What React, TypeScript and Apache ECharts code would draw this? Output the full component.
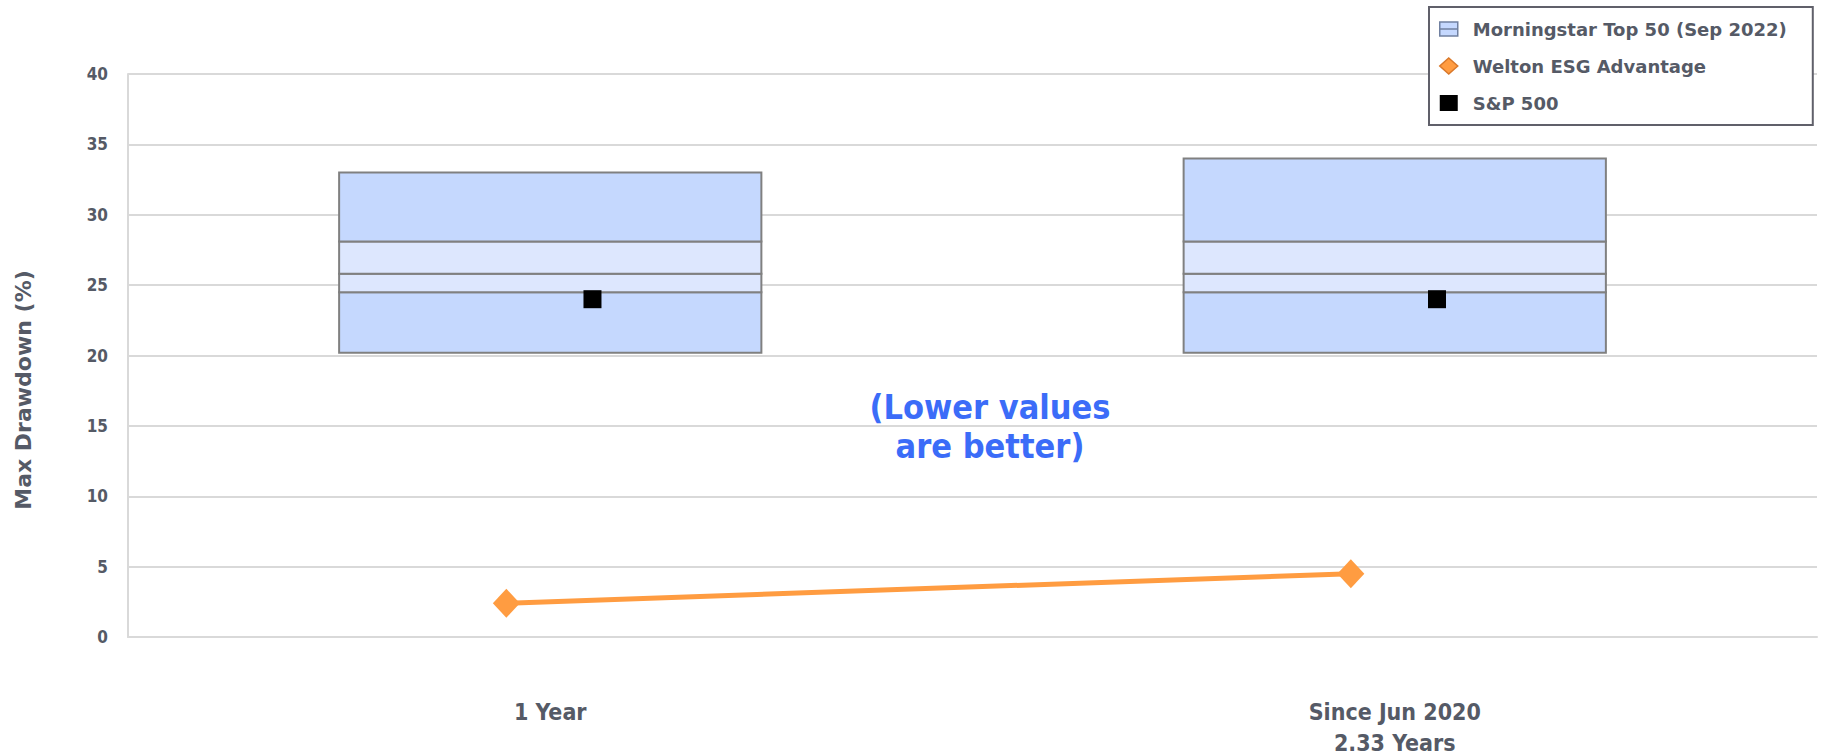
import React, { useEffect, useRef } from "react";
import * as echarts from "echarts";

const categories = ["1 Year", "Since Jun 2020\n2.33 Years"];
// Morningstar Top 50 distribution: [min, q1, median, q3, max]
const mstarMin = [20.2, 20.2];
const mstarQ1 = [24.5, 24.5];
const mstarMedian = [25.8, 25.8];
const mstarQ3 = [28.1, 28.1];
const mstarMax = [33.0, 34.0];
const welton = [2.4, 4.5];
const sp500 = [24.0, 24.0];
const yTicks = { min: 0, max: 40, interval: 5 };

const LABEL_COLOR = "#555a66";
const GRID_COLOR = "#d9d9d9";
const DARK_FILL = "#c5d8fe";
const LIGHT_FILL = "#dde7fe";
const BOX_STROKE = "#808080";
const ORANGE = "#ff9c41";
const WELTON_SHIFT = -0.052;
const SP_SHIFT = 0.05;

export default function App() {
  const ref = useRef<HTMLDivElement>(null);

  useEffect(() => {
    if (!ref.current) return;
    const chart = echarts.init(ref.current, null, { renderer: "svg" });

    const boxData = categories.map((_, i) => [
      i,
      mstarMin[i],
      mstarQ1[i],
      mstarMedian[i],
      mstarQ3[i],
      mstarMax[i],
    ]);

    const renderBox = (params: any, api: any) => {
      const idx = api.value(0);
      const vals = [api.value(1), api.value(2), api.value(3), api.value(4), api.value(5)];
      const band = api.size([1, 0])[0];
      const w = band * 0.5;
      const cx = api.coord([idx, vals[0]])[0];
      const x0 = cx - w / 2;
      const fills = [DARK_FILL, LIGHT_FILL, LIGHT_FILL, DARK_FILL];
      const children = fills.map((fill, k) => {
        const yLow = api.coord([idx, vals[k]])[1];
        const yHigh = api.coord([idx, vals[k + 1]])[1];
        return {
          type: "rect",
          shape: { x: x0, y: yHigh, width: w, height: yLow - yHigh },
          style: { fill, stroke: BOX_STROKE, lineWidth: 2 },
        };
      });
      return { type: "group", children };
    };

    chart.setOption({
      animation: false,
      backgroundColor: "#ffffff",
      grid: { left: 128, right: 5, top: 74, bottom: 119, outerBoundsMode: "none", containLabel: false },
      legend: {
        orient: "vertical",
        left: 1429,
        top: 7,
        padding: [13, 26, 13, 10],
        borderColor: "#60606a",
        borderWidth: 2,
        backgroundColor: "#ffffff",
        itemWidth: 18,
        itemHeight: 16,
        itemGap: 19,
        selectedMode: false,
        textStyle: {
          color: LABEL_COLOR,
          fontFamily: "DejaVu Sans",
          fontWeight: "bold",
          fontSize: 18,
          lineHeight: 18,
          padding: [0, 0, 0, 10],
        },
        data: [
          {
            name: "Morningstar Top 50 (Sep 2022)",
            icon: "path://M0,0H18V14H0Z M0,7H18",
            itemStyle: { color: DARK_FILL, borderColor: "#7080a0", borderWidth: 1.5, opacity: 1 },
          },
          {
            name: "Welton ESG Advantage",
            icon: "diamond",
            itemStyle: { color: ORANGE, borderColor: "#d9782a", borderWidth: 1.5, opacity: 1 },
          },
          {
            name: "S&P 500",
            icon: "rect",
            itemStyle: { color: "#000000", borderColor: "#000000", borderWidth: 0, opacity: 1 },
          },
        ],
      },
      xAxis: [
        {
          type: "category",
          data: categories,
          boundaryGap: true,
          axisLine: { show: true, onZero: false, lineStyle: { color: GRID_COLOR, width: 2 } },
          axisTick: { show: false },
          axisLabel: {
            color: LABEL_COLOR,
            fontFamily: "DejaVu Sans Condensed",
            fontWeight: "bold",
            fontSize: 23,
            lineHeight: 31,
            margin: 59,
          },
          splitLine: { show: false },
        },
        {
          type: "value",
          min: -0.5,
          max: 1.5,
          show: false,
          splitLine: { show: false },
          axisLine: { show: false, onZero: false },
          axisTick: { show: false },
          axisLabel: { show: false },
        },
      ],
      yAxis: {
        type: "value",
        min: yTicks.min,
        max: yTicks.max,
        interval: yTicks.interval,
        axisLine: { show: true, onZero: false, lineStyle: { color: GRID_COLOR, width: 2 } },
        axisTick: { show: false },
        axisLabel: {
          color: LABEL_COLOR,
          fontFamily: "DejaVu Sans Condensed",
          fontWeight: "bold",
          fontSize: 17,
          margin: 20,
        },
        splitLine: { show: true, lineStyle: { color: GRID_COLOR, width: 2 } },
      },
      graphic: [
        {
          type: "text",
          x: 23,
          y: 390,
          rotation: Math.PI / 2,
          style: {
            text: "Max Drawdown (%)",
            fontFamily: "DejaVu Sans",
            fontWeight: "bold",
            fontSize: 22,
            fill: LABEL_COLOR,
            align: "center",
            verticalAlign: "middle",
          },
        },
        {
          type: "text",
          x: 990,
          y: 426,
          style: {
            text: "(Lower values\nare better)",
            fontFamily: "DejaVu Sans Condensed",
            fontWeight: "bold",
            fontSize: 34,
            lineHeight: 39,
            fill: "#3b6cf8",
            align: "center",
            verticalAlign: "middle",
          },
        },
      ],
      series: [
        {
          name: "Morningstar Top 50 (Sep 2022)",
          type: "custom",
          xAxisIndex: 0,
          renderItem: renderBox,
          itemStyle: { color: DARK_FILL },
          encode: { x: 0, y: [1, 2, 3, 4, 5] },
          data: boxData,
          z: 2,
        },
        {
          name: "Welton ESG Advantage",
          type: "line",
          xAxisIndex: 1,
          data: welton.map((v, i) => [i + WELTON_SHIFT, v]),
          symbol: "diamond",
          symbolSize: [27, 29],
          lineStyle: { color: ORANGE, width: 5 },
          itemStyle: { color: ORANGE, opacity: 1 },
          z: 4,
        },
        {
          name: "S&P 500",
          type: "scatter",
          xAxisIndex: 1,
          data: sp500.map((v, i) => [i + SP_SHIFT, v]),
          symbol: "rect",
          symbolSize: 18,
          itemStyle: { color: "#000000", opacity: 1 },
          z: 5,
        },
      ],
    });

    return () => chart.dispose();
  }, []);

  return (
    <div
      ref={ref}
      style={{ position: "absolute", left: 0, top: 0, width: 1822, height: 756 }}
    />
  );
}
